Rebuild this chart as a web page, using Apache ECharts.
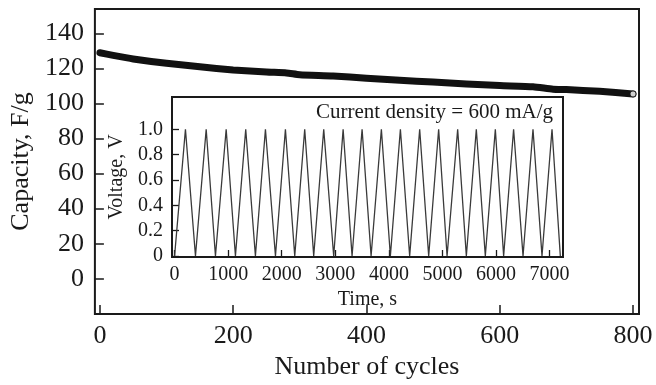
<!DOCTYPE html>
<html>
<head>
<meta charset="utf-8">
<script src="https://cdn.jsdelivr.net/npm/echarts@6/dist/echarts.min.js"></script>
<style>
  html, body { margin: 0; padding: 0; background: #fff; }
  #chart { width: 656px; height: 385px; }
</style>
</head>
<body>
<div id="chart"></div>
<script>
// capacity vs cycle number (main plot)
const cycles = [0, 20, 50, 100, 150, 200, 250, 280, 300, 350, 400, 450, 500, 550, 600, 650, 680, 700, 750, 800]
const capacity = [129, 127.5, 125.5, 123, 121, 119.2, 118, 117.5, 116.5, 115.8, 114.5, 113.3, 112.3, 111.2, 110.3, 109.6, 108.2, 108, 107, 105.5]

// galvanostatic charge/discharge (inset), turning points
const voltTime = [0, 203, 390, 590, 763, 963, 1136, 1328, 1509, 1696, 1883, 2069, 2243, 2429, 2597,
  2784, 2970, 3146, 3313, 3500, 3668, 3860, 4028, 4215, 4388, 4575, 4743, 4929, 5086, 5284,
  5446, 5632, 5800, 5987, 6142, 6328, 6504, 6690, 6858, 7045, 7200]
const voltValue = [0, 1, 0, 1, 0, 1, 0, 1, 0, 1, 0, 1, 0, 1, 0, 1, 0, 1, 0, 1, 0,
  1, 0, 1, 0, 1, 0, 1, 0, 1, 0, 1, 0, 1, 0, 1, 0, 1, 0, 1, 0]

const mainXTicks = [0, 200, 400, 600, 800]
const mainYTicks = [0, 20, 40, 60, 80, 100, 120, 140]
const insetXTicks = [0, 1000, 2000, 3000, 4000, 5000, 6000, 7000]
const insetYTicks = [0, 0.2, 0.4, 0.6, 0.8, 1.0]

const font = "Liberation Serif"
const ink = "#1a1a1a"

const chart = echarts.init(document.getElementById("chart"), null, { renderer: "canvas" })

const mainAxisCommon = {
  axisLine: { show: false, onZero: false },
  splitLine: { show: false },
  axisTick: { inside: true, length: 9, lineStyle: { color: ink, width: 1.5 } },
  nameTextStyle: { fontFamily: font, fontSize: 26, color: ink },
}

const insetAxisCommon = {
  axisLine: { show: false, onZero: false },
  splitLine: { show: false },
  axisTick: { inside: true, length: 7, lineStyle: { color: ink, width: 1.3 } },
  nameTextStyle: { fontFamily: font, fontSize: 20, color: ink },
}

chart.setOption({
  backgroundColor: "#fff",
  animation: false,
  grid: [
    { left: 92, top: 9, right: 17, bottom: 66, show: true, borderColor: ink, borderWidth: 2, backgroundColor: "transparent" },
    { left: 172, top: 97, right: 93, bottom: 128, show: true, borderColor: ink, borderWidth: 2, backgroundColor: "#fff", z: 5 },
  ],
  xAxis: [
    {
      ...mainAxisCommon,
      gridIndex: 0,
      type: "value",
      min: -7.5,
      max: 809,
      name: "Number of cycles",
      nameLocation: "middle",
      nameGap: 38,
      axisTick: { ...mainAxisCommon.axisTick, customValues: mainXTicks },
      axisLabel: { customValues: mainXTicks, margin: 9, fontFamily: font, fontSize: 26, color: ink, formatter: (v) => String(v) },
    },
    {
      ...insetAxisCommon,
      gridIndex: 1,
      type: "value",
      min: -48,
      max: 7250,
      name: "Time, s",
      nameLocation: "middle",
      nameGap: 33,
      axisTick: { ...insetAxisCommon.axisTick, customValues: insetXTicks },
      axisLabel: { customValues: insetXTicks, margin: 8, fontFamily: font, fontSize: 20, color: ink, formatter: (v) => String(v) },
      z: 6,
    },
  ],
  yAxis: [
    {
      ...mainAxisCommon,
      gridIndex: 0,
      type: "value",
      min: -20.2,
      max: 154,
      name: "Capacity, F/g",
      nameLocation: "middle",
      nameGap: 58,
      axisTick: { ...mainAxisCommon.axisTick, customValues: mainYTicks },
      axisLabel: { customValues: mainYTicks, margin: 11, fontFamily: font, fontSize: 26, color: ink, formatter: (v) => String(v) },
    },
    {
      ...insetAxisCommon,
      gridIndex: 1,
      type: "value",
      min: -0.008,
      max: 1.255,
      name: "Voltage, V",
      nameLocation: "middle",
      nameGap: 44,
      axisTick: { ...insetAxisCommon.axisTick, customValues: insetYTicks },
      axisLabel: {
        customValues: insetYTicks,
        margin: 9,
        fontFamily: font,
        fontSize: 20,
        color: ink,
        formatter: (v) => (v === 0 ? "0" : v.toFixed(1)),
      },
      z: 6,
    },
  ],
  series: [
    {
      type: "line",
      xAxisIndex: 0,
      yAxisIndex: 0,
      showSymbol: false,
      smooth: 0.2,
      lineStyle: { color: "#111", width: 7, cap: "round", join: "round" },
      data: cycles.map((c, i) => [c, capacity[i]]),
      z: 2,
    },
    {
      type: "scatter",
      xAxisIndex: 0,
      yAxisIndex: 0,
      symbol: "circle",
      symbolSize: 6,
      itemStyle: { color: "#fff", borderColor: "#111", borderWidth: 1 },
      data: [[cycles[cycles.length - 1], capacity[capacity.length - 1]]],
      z: 3,
    },
    {
      type: "line",
      xAxisIndex: 1,
      yAxisIndex: 1,
      showSymbol: false,
      lineStyle: { color: "#3a3a3a", width: 1.3 },
      data: voltTime.map((t, i) => [t, voltValue[i]]),
      z: 7,
    },
  ],
  graphic: [
    {
      type: "text",
      z: 20,
      style: {
        text: "Current density = 600 mA/g",
        x: 553,
        y: 112,
        textAlign: "right",
        textVerticalAlign: "middle",
        fontFamily: font,
        fontSize: 21,
        fill: ink,
      },
    },
  ],
})

window.addEventListener("resize", () => chart.resize())
</script>
</body>
</html>
